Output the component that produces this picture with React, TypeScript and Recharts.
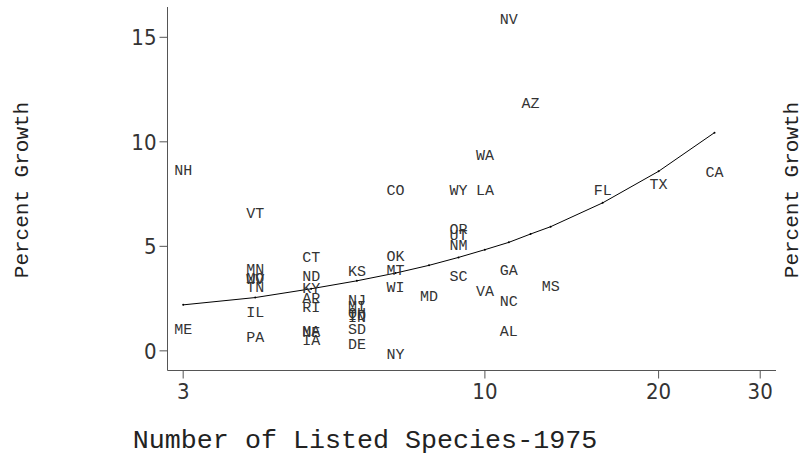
import React from "react";
import { ScatterChart, Scatter, XAxis, YAxis } from "recharts";

// state abbreviations, listed species (1975) and percent growth
const states = [
  "NH", "ME", "VT", "MN", "MO", "WV", "TN", "IL", "PA", "CT", "ND", "KY",
  "AR", "RI", "MA", "NE", "IA", "KS", "NJ", "MI", "OH", "ID", "IN", "SD",
  "DE", "OK", "MT", "WI", "NY", "CO", "MD", "OR", "UT", "NM", "SC", "WY",
  "LA", "WA", "VA", "GA", "NC", "AL", "NV", "AZ", "MS", "FL", "TX", "CA",
];
const species = [
  3, 3, 4, 4, 4, 4, 4, 4, 4, 5, 5, 5,
  5, 5, 5, 5, 5, 6, 6, 6, 6, 6, 6, 6,
  6, 7, 7, 7, 7, 7, 8, 9, 9, 9, 9, 9,
  10, 10, 10, 11, 11, 11, 11, 12, 13, 16, 20, 25,
];
const growth = [
  8.66, 1.05, 6.62, 3.92, 3.52, 3.45, 3.06, 1.87, 0.66, 4.51, 3.59, 3.04,
  2.53, 2.1, 0.95, 0.9, 0.53, 3.83, 2.44, 2.15, 1.8, 1.74, 1.63, 1.04,
  0.33, 4.56, 3.86, 3.08, -0.16, 7.73, 2.64, 5.83, 5.55, 5.08, 3.6, 7.73,
  7.73, 9.37, 2.89, 3.87, 2.39, 0.94, 15.91, 11.89, 3.11, 7.73, 8.0, 8.56,
];

// fitted curve
const fitX = [3, 4, 5, 6, 7, 8, 9, 10, 11, 12, 13, 16, 20, 25];
const fitY = [2.2, 2.55, 2.97, 3.35, 3.72, 4.09, 4.47, 4.84, 5.19, 5.59, 5.94, 7.08, 8.59, 10.44];

const xTicks = [3, 10, 20, 30];
const yTicks = [0, 5, 10, 15];

const pointData = states.map((s, i) => ({ state: s, x: species[i], y: growth[i] }));
const fitData = fitX.map((x, i) => ({ x, y: fitY[i] }));

const monoFont = "'Liberation Mono', 'DejaVu Sans Mono', monospace";
const tickFont = "'Liberation Sans Narrow', 'DejaVu Sans Condensed', 'DejaVu Sans', sans-serif";

const renderLabel = (props: any) => (
  <text
    x={props.cx}
    y={props.cy}
    dy="0.35em"
    textAnchor="middle"
    fontFamily={monoFont}
    fontSize={15}
    fill="#333"
  >
    {props.payload.state}
  </text>
);

const renderDot = (props: any) => (
  <circle cx={props.cx} cy={props.cy} r={1} fill="#000" />
);

const titleStyle: React.CSSProperties = {
  position: "absolute",
  fontFamily: monoFont,
  color: "#222",
  whiteSpace: "nowrap",
};

export default function App() {
  return (
    <div style={{ position: "absolute", left: 0, top: 0, width: 806, height: 466, background: "#fff" }}>
      <ScatterChart
        width={806}
        height={466}
        margin={{ top: 7, right: 30, left: 107.5, bottom: 65.5 }}
      >
        <XAxis
          type="number"
          dataKey="x"
          scale="log"
          domain={[2.818, 31.95]}
          allowDataOverflow
          ticks={xTicks}
          height={30}
          tickSize={8}
          tickMargin={5}
          stroke="#555"
          tick={{ fill: "#333", fontSize: 22, fontFamily: tickFont }}
        />
        <YAxis
          type="number"
          dataKey="y"
          domain={[-0.94, 16.45]}
          allowDataOverflow
          ticks={yTicks}
          width={60}
          tickSize={8}
          tickMargin={3}
          stroke="#555"
          tick={{ fill: "#333", fontSize: 22, fontFamily: tickFont }}
        />
        <Scatter
          data={fitData}
          line={{ stroke: "#000", strokeWidth: 1 }}
          shape={renderDot}
          isAnimationActive={false}
        />
        <Scatter data={pointData} shape={renderLabel} isAnimationActive={false} />
      </ScatterChart>
      <div
        style={{
          ...titleStyle,
          fontSize: 21,
          left: 22,
          top: 190,
          transform: "translate(-50%, -50%) rotate(-90deg)",
        }}
      >
        Percent Growth
      </div>
      <div
        style={{
          ...titleStyle,
          fontSize: 21,
          left: 792,
          top: 190,
          transform: "translate(-50%, -50%) rotate(-90deg)",
        }}
      >
        Percent Growth
      </div>
      <div
        style={{
          ...titleStyle,
          fontSize: 26.7,
          left: 365,
          top: 441,
          transform: "translate(-50%, -50%)",
        }}
      >
        Number of Listed Species-1975
      </div>
    </div>
  );
}
